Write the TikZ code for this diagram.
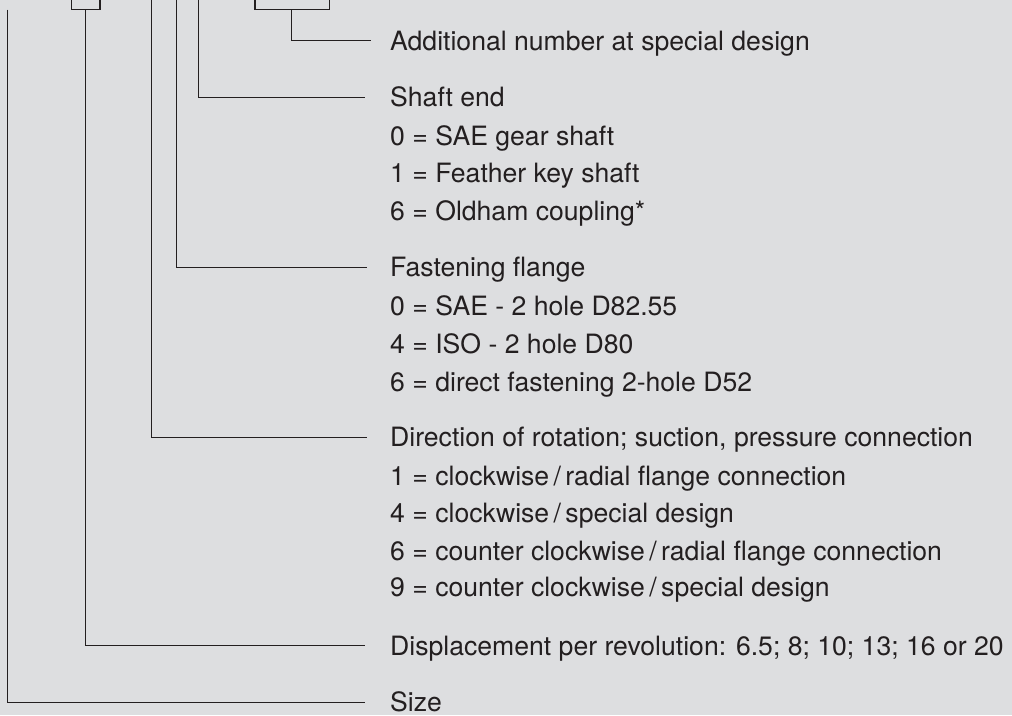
\documentclass[tikz,border=0pt]{standalone}
\usepackage{fontspec}
\setmainfont{TeX Gyre Heros}
\definecolor{bg}{RGB}{221,222,224}
\definecolor{ink}{RGB}{35,31,32}
\newcommand{\myslash}{\,/\,}
\begin{document}
\begin{tikzpicture}[x=1pt,y=-1pt,
  lbl/.style={anchor=base west, inner sep=0pt, text height=19pt, text depth=0pt,
              font=\fontsize{26.6}{32}\selectfont, text=ink},
  lead/.style={draw=ink, line width=1.3pt},
  conn/.style={lead, shorten >=25pt}]
\fill[bg] (0,0) rectangle (1012,715);
\useasboundingbox (0,0) rectangle (1012,715);
\clip (0,0) rectangle (1012,715);

% texts
\node[lbl] (add)    at (390,50)    {Additional number at special design};
\node[lbl] (shaft)  at (390,106.7) {Shaft end};
\node[lbl] (s0)     at (390,145)   {0 = SAE gear shaft};
\node[lbl] (s1)     at (390,182.7) {1 = Feather key shaft};
\node[lbl] (s6)     at (390,220.3) {6 = Oldham coupling*};
\node[lbl] (flange) at (390,276.7) {Fastening flange};
\node[lbl] (f0)     at (390,315)   {0 = SAE - 2 hole D82.55};
\node[lbl] (f4)     at (390,353)   {4 = ISO - 2 hole D80};
\node[lbl] (f6)     at (390,391)   {6 = direct fastening 2-hole D52};
\node[lbl] (dir)    at (390,446.7) {Direction of rotation; suction, pressure connection};
\node[lbl] (d1)     at (390,485)   {1 = clockwise\myslash radial flange connection};
\node[lbl] (d4)     at (390,522.7) {4 = clockwise\myslash special design};
\node[lbl] (d6)     at (390,560)   {6 = counter clockwise\myslash radial flange connection};
\node[lbl] (d9)     at (390,596.7) {9 = counter clockwise\myslash special design};
\node[lbl] (disp)   at (390,655)   {Displacement per revolution: 6.5; 8; 10; 13; 16 or 20};
\node[lbl] (size)   at (390,711.7) {Size};

% bracket tops
\coordinate (sizetop)  at (7.3,9.5);
\coordinate (disptop)  at (85.7,9.5);
\coordinate (dirtop)   at (151.7,-5);
\coordinate (flgtop)   at (176.3,-5);
\coordinate (shafttop) at (198.3,-5);
\coordinate (addtop)   at (291.3,9.5);

% small boxes of the type code
\draw[lead] (71.7,-5) |- (100,9.5) -- (100,-5);
\draw[lead] (255,-5) |- (329.3,9.5) -- (329.3,-5);

% connectors
\draw[conn] (sizetop) |- (size.west);
\draw[conn] (disptop) |- (disp.west);
\draw[conn, shorten >=23.5pt] (dirtop) |- (dir.west);
\draw[conn, shorten >=23.5pt] (flgtop) |- (flange.west);
\draw[conn] (shafttop) |- (shaft.west);
\draw[conn, shorten >=19pt] (addtop) |- (add.west);
\end{tikzpicture}
\end{document}
